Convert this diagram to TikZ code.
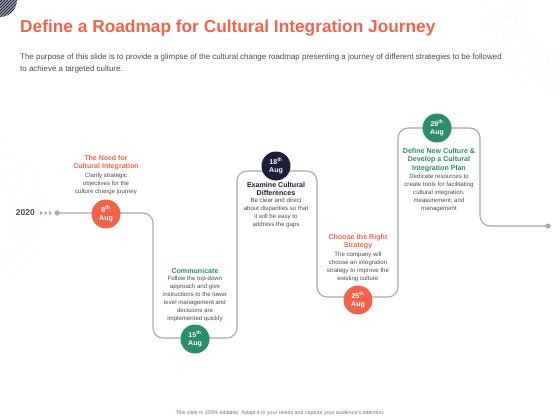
\documentclass[tikz,border=0pt]{standalone}
\usepackage{fontspec}
\setmainfont{Liberation Sans}
\usepackage{xcolor}
\usepackage{tikz}
\usetikzlibrary{positioning,calc}

\definecolor{roadorange}{HTML}{F2644A}
\definecolor{roadgreen}{HTML}{2B8C6E}
\definecolor{roadnavy}{HTML}{1C1E3A}
\definecolor{roadgray}{HTML}{A8A8A8}
\definecolor{bodygray}{HTML}{4A4A4A}

\tikzset{
    datecircle/.style={circle, minimum size=29pt, inner sep=0pt, text=white, font=\fontsize{7}{8}\selectfont\bfseries, align=center},
    steptitle/.style={align=center, inner sep=0pt, font=\fontsize{7.1}{8.6}\selectfont\bfseries},
    stepbody/.style={align=center, inner sep=0pt, text=bodygray, font=\fontsize{6.1}{8}\selectfont}
}

\begin{document}
\begin{tikzpicture}[x=1pt, y=-1pt]
    \useasboundingbox (0,0) rectangle (560,420);
    \fill[white] (0,0) rectangle (560,420);

    % corner decorations
    \begin{scope}
        \clip (0,0) circle (17);
        \foreach \k in {-40,-37,...,40} {
            \draw[roadnavy, line width=1.1pt] (\k-20,20) -- (\k+20,-20);
        }
    \end{scope}
    \foreach \r in {44,50,...,80} {
        \foreach \a in {95,103,...,265} {
            \fill[black!5] ($(566,12)+(\a:\r)$) circle (0.9);
        }
    }
    \foreach \r in {52,58,...,82} {
        \foreach \a in {-62,-54,...,62} {
            \fill[roadorange!7] ($(-38,214)+(\a:\r)$) circle (0.9);
        }
    }

    % heading
    \node[anchor=base west, inner sep=0pt, text=roadorange, font=\fontsize{17.3}{20}\selectfont\bfseries] (title) at (20,33) {Define a Roadmap for Cultural Integration Journey};
    \node[anchor=north west, inner sep=0pt, align=left, text=bodygray, font=\fontsize{7.95}{12}\selectfont] (intro) at (20,54) {The purpose of this slide is to provide a glimpse of the cultural change roadmap presenting a journey of different strategies to be followed\\to achieve a targeted culture.};

    % road
    \coordinate (start) at (57,213);
    \coordinate (finish) at (548,226);
    \draw[roadgray, line width=1.1pt, rounded corners=10pt] (start) -- (153,213) -- (153,338) -- (237,338) -- (237,171) -- (317,171) -- (317,297) -- (398,297) -- (398,128) -- (480,128) -- (480,226) -- (finish);
    \fill[roadgray] (start) circle (2.6);
    \fill[roadgray] (finish) circle (2.6);
    \foreach \x in {40,44.5,49} {
        \fill[roadgray] (\x,211) -- (\x+3,213) -- (\x,215) -- cycle;
    }
    \node[anchor=east, inner sep=0pt, text=bodygray, font=\fontsize{8.5}{10}\selectfont\bfseries] (year) at (35,213) {2020};

    % date circles
    \foreach \name/\x/\y/\col/\d in {d8/106/214/roadorange/8, d15/195/339/roadgreen/15, d18/276/166/roadnavy/18, d25/358/300/roadorange/25, d29/437/128/roadgreen/29} {
        \node[datecircle, fill=\col] (\name) at (\x,\y) {\d\textsuperscript{th}\\Aug};
    }

    % milestones
    \node[steptitle, text=roadorange, anchor=north] (t8) at (106,155) {The Need for\\Cultural Integration};
    \node[stepbody, below=2pt of t8] (b8) {Clarify strategic\\objectives for the\\culture change journey};

    \node[steptitle, text=roadgreen, anchor=north] (t15) at (195,268) {Communicate};
    \node[stepbody, below=2pt of t15] (b15) {Follow the top-down\\approach and give\\instructions to the lower\\level management  and\\decisions are\\implemented  quickly};

    \node[steptitle, text=roadnavy, anchor=north] (t18) at (276,182) {Examine Cultural\\Differences};
    \node[stepbody, below=2pt of t18] (b18) {Be clear and direct\\about disparities so that\\it will be easy to\\address the gaps};

    \node[steptitle, text=roadorange, anchor=north] (t25) at (358,234) {Choose the Right\\Strategy};
    \node[stepbody, below=2pt of t25] (b25) {The company will\\choose an integration\\strategy to improve the\\existing culture};

    \node[steptitle, text=roadgreen, anchor=north] (t29) at (439,148) {Define New Culture \&\\Develop a Cultural\\Integration Plan};
    \node[stepbody, below=2pt of t29] (b29) {Dedicate resources to\\create tools for facilitating\\cultural integration,\\measurement, and\\management};

    % footer
    \node[inner sep=0pt, text=black!55, font=\fontsize{5.3}{6}\selectfont] (foot) at (280,413) {This slide is 100\% editable. Adapt it to your needs and capture your audience's attention.};
\end{tikzpicture}
\end{document}
